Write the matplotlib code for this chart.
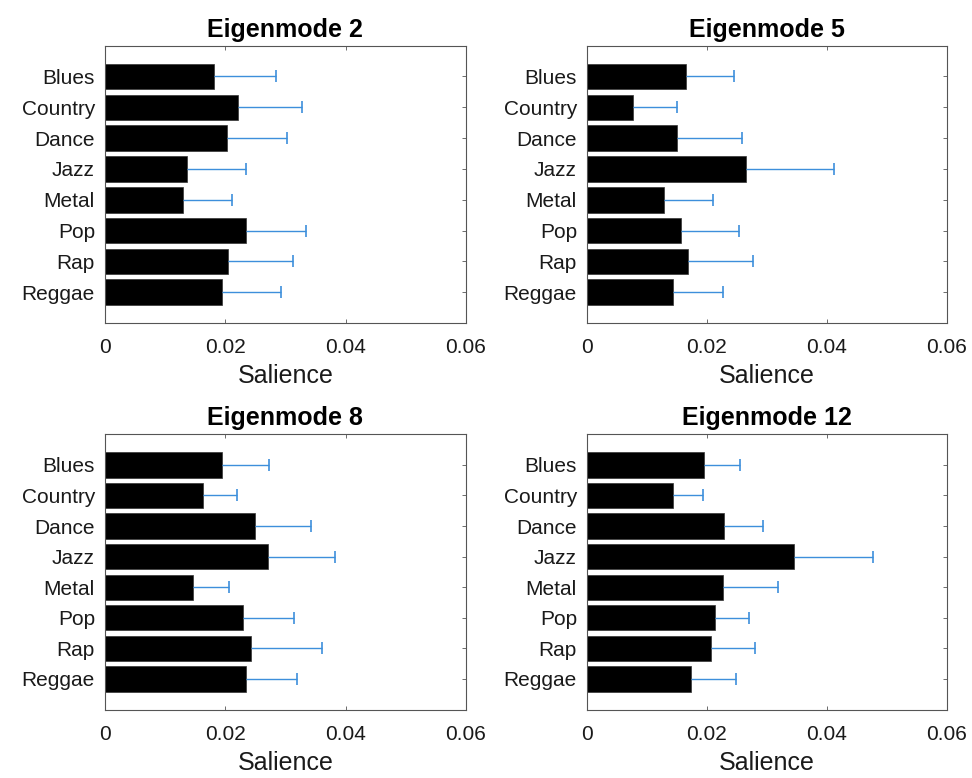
import numpy as np
import matplotlib
matplotlib.use("Agg")
import matplotlib.pyplot as plt

plt.rcParams['font.family'] = ['Liberation Sans', 'DejaVu Sans']

genres = ['Blues', 'Country', 'Dance', 'Jazz', 'Metal', 'Pop', 'Rap', 'Reggae']

# salience (bar) and one-sided error per eigenmode
mode2_vals = [0.0182, 0.0222, 0.0203, 0.0136, 0.0130, 0.0234, 0.0205, 0.0194]
mode2_err = [0.0103, 0.0105, 0.0099, 0.0098, 0.0082, 0.0100, 0.0108, 0.0099]

mode5_vals = [0.0165, 0.0077, 0.0151, 0.0266, 0.0129, 0.0157, 0.0168, 0.0143]
mode5_err = [0.0080, 0.0074, 0.0107, 0.0146, 0.0081, 0.0097, 0.0109, 0.0084]

mode8_vals = [0.0195, 0.0164, 0.0250, 0.0272, 0.0147, 0.0229, 0.0243, 0.0234]
mode8_err = [0.0078, 0.0055, 0.0093, 0.0110, 0.0060, 0.0086, 0.0118, 0.0085]

mode12_vals = [0.0196, 0.0144, 0.0228, 0.0346, 0.0227, 0.0213, 0.0207, 0.0174]
mode12_err = [0.0060, 0.0050, 0.0065, 0.0131, 0.0091, 0.0058, 0.0073, 0.0075]

panels = [
    ("Eigenmode 2", mode2_vals, mode2_err),
    ("Eigenmode 5", mode5_vals, mode5_err),
    ("Eigenmode 8", mode8_vals, mode8_err),
    ("Eigenmode 12", mode12_vals, mode12_err),
]

# axes boxes in figure fractions [left, bottom, width, height]
positions = [
    [0.1077, 0.5848, 0.3717, 0.3565],
    [0.6036, 0.5848, 0.3707, 0.3565],
    [0.1077, 0.0880, 0.3717, 0.3538],
    [0.6036, 0.0880, 0.3707, 0.3538],
]

fig = plt.figure(figsize=(9.72, 7.78), dpi=100)
y = np.arange(1, len(genres) + 1)
err_color = '#3d8fdb'

for (title, vals, err), pos in zip(panels, positions):
    ax = fig.add_axes(pos)
    vals = np.array(vals)
    ends = vals + np.array(err)
    ax.barh(y, vals, height=0.83, color='black', edgecolor='#333333', linewidth=0.5, zorder=2)
    # one-sided error bars: line from bar end plus a cap at the upper end only
    ax.hlines(y, vals, ends, color=err_color, linewidth=1.0, zorder=3)
    ax.plot(ends, y, linestyle='none', marker='|', markersize=9,
            markeredgewidth=1.2, color=err_color, zorder=3)
    ax.set_xlim(0, 0.06)
    ax.set_ylim(9, 0)
    ax.set_xticks([0, 0.02, 0.04, 0.06])
    ax.set_xticklabels(['0', '0.02', '0.04', '0.06'])
    ax.set_yticks(y)
    ax.set_yticklabels(genres)
    ax.tick_params(direction='in', length=3, width=0.6, colors='#555555',
                   labelcolor='#1a1a1a', labelsize=15, top=True, right=True)
    ax.tick_params(axis='x', pad=11)
    ax.tick_params(axis='y', pad=7)
    for s in ax.spines.values():
        s.set_color('#555555')
        s.set_linewidth(0.8)
    ax.set_xlabel('Salience', fontsize=18, color='#1a1a1a', labelpad=5)
    ax.set_title(title, fontsize=18, fontweight='bold', pad=6.5)

fig.savefig('out.png', dpi=100)
